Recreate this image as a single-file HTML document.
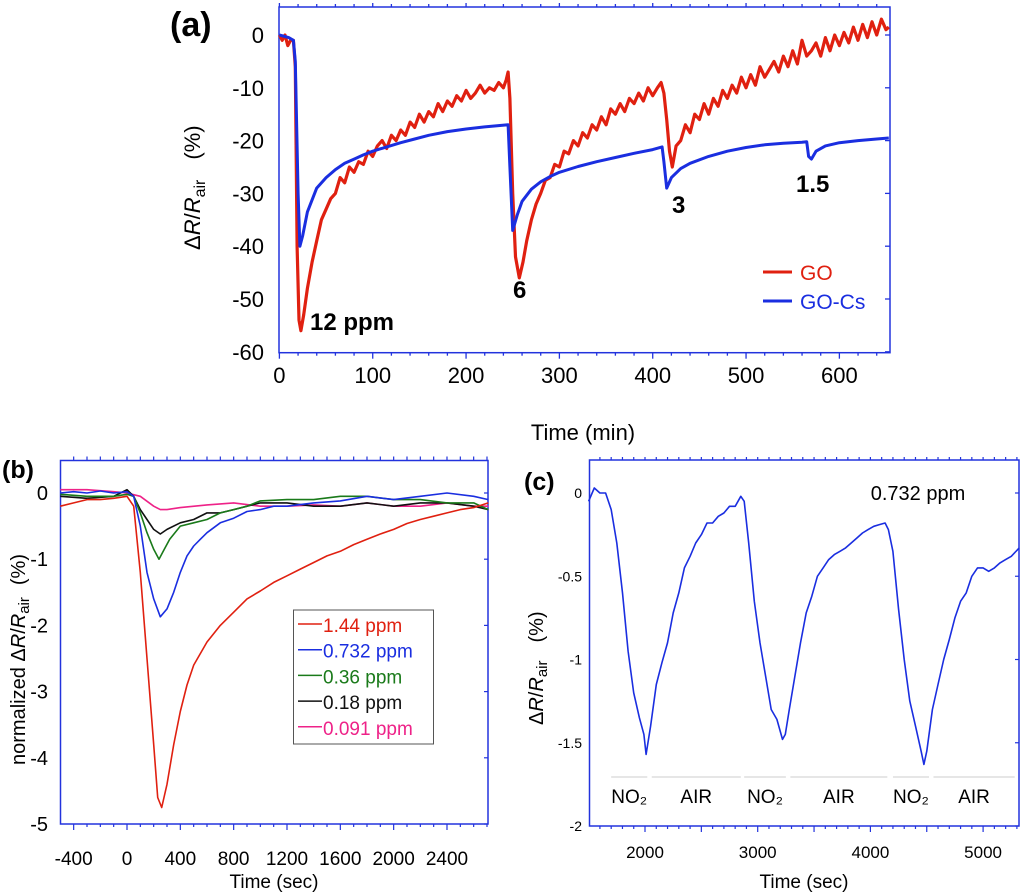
<!DOCTYPE html>
<html><head><meta charset="utf-8"><style>
body{margin:0;background:#fff}
svg{display:block;font-family:"Liberation Sans",Arial,sans-serif}
</style></head><body>
<svg id="s" width="1024" height="895" viewBox="0 0 1024 895">
<g id="ga"></g>
<g id="gb"></g>
<g id="gc"></g>
</svg>
<script>
// ---- Panel (a) data ----
const aGoT=[0,3,6,9,12,15,17,19,21,23,26,30,35,40,45,50,55,60,65,70,75,80,85,90,95,100,105,110,115,120,125,130,135,140,145,150,155,160,165,170,175,180,185,190,195,200,205,210,215,220,225,230,235,240,243,245,247,250,253,257,261,265,270,275,280,285,290,295,300,305,310,315,320,325,330,335,340,345,350,355,360,365,370,375,380,385,390,395,400,405,409,412,415,418,421,425,430,435,440,445,450,455,460,465,470,475,480,485,490,495,500,505,510,515,520,525,530,535,540,545,550,555,560,565,570,575,580,585,590,595,600,605,610,615,620,625,630,635,640,645,650,653];
const aGoV=[0,-1,0,-2,-1,-1,-6,-40,-54,-56,-53,-48,-43,-39,-35,-33,-31,-30,-27,-28,-25,-26,-24,-24.5,-22,-23,-21,-20,-21.5,-19,-20,-18,-19,-16.5,-17.5,-15,-16.5,-14.5,-15.5,-13,-14.5,-12.5,-13.5,-11.5,-12.5,-10.5,-12,-11,-9.5,-11,-10,-10.5,-9,-10,-8.5,-7,-12,-30,-42,-46,-43,-39,-35,-32,-30,-27.5,-27,-24.5,-25,-22,-22.5,-20,-21,-18.5,-19.5,-17,-18,-15.5,-17,-14,-15,-13,-14.5,-12,-13,-11,-12.5,-10,-11.5,-10,-9,-11,-16,-22,-25,-21,-20,-17,-18.5,-15,-16,-13,-15,-12,-13.5,-10.5,-12,-9.5,-11,-8,-10,-7.5,-9.5,-6,-8,-6.5,-5,-7,-4,-6,-3,-5.5,-1,-4,-3,-1.5,-4,-0.5,-3,0,-2,0.5,-1.5,1.5,-1,2,-0.5,2.5,0,3,1,1.5];
const aCsT=[0,10,15,17,20,22,25,30,40,50,60,70,80,90,100,115,130,145,160,180,200,220,245,247,250,255,260,270,280,290,300,320,340,360,380,400,410,412,415,420,430,440,460,480,500,520,540,560,565,567,570,575,585,600,620,640,653];
const aCsV=[0,-0.5,-1,-5,-30,-40,-38,-33.5,-29,-27,-25.5,-24.3,-23.5,-22.7,-22,-21.2,-20.4,-19.7,-19,-18.3,-17.8,-17.4,-17,-25,-37,-34,-31.5,-29.2,-27.8,-26.8,-26,-24.9,-24,-23.2,-22.4,-21.7,-21.2,-24,-29,-27,-25.3,-24.3,-23,-22,-21.3,-20.8,-20.5,-20.3,-20.2,-23,-23.5,-22,-21,-20.4,-20,-19.7,-19.5];
const aXTicks=[0,100,200,300,400,500,600];
const aYTicks=[0,-10,-20,-30,-40,-50,-60];
// ---- Panel (b) data ----
const bRedT=[-500,-400,-300,-200,-100,0,50,100,150,200,230,260,300,350,400,450,500,600,700,800,900,1000,1100,1200,1300,1400,1500,1600,1700,1800,1900,2000,2100,2200,2300,2400,2500,2600,2710];
const bRedV=[-0.2,-0.15,-0.1,-0.1,-0.08,-0.05,-0.2,-1.2,-2.5,-3.8,-4.6,-4.75,-4.4,-3.8,-3.3,-2.9,-2.6,-2.25,-2.0,-1.8,-1.6,-1.48,-1.35,-1.25,-1.15,-1.05,-0.95,-0.88,-0.78,-0.7,-0.62,-0.55,-0.46,-0.4,-0.35,-0.3,-0.25,-0.22,-0.15];
const bBlueT=[-500,-400,-300,-200,-100,0,50,100,150,200,250,300,350,400,450,500,550,600,700,800,900,1000,1100,1200,1400,1600,1800,2000,2200,2400,2600,2710];
const bBlueV=[0,0.02,0,0.03,0,0.02,-0.05,-0.5,-1.2,-1.6,-1.87,-1.75,-1.5,-1.2,-0.95,-0.8,-0.7,-0.6,-0.45,-0.38,-0.28,-0.25,-0.2,-0.2,-0.15,-0.12,-0.05,-0.1,-0.05,0,-0.05,-0.1];
const bGreenT=[-500,-300,-100,0,50,100,150,200,240,280,320,400,500,600,700,800,900,1000,1200,1400,1600,1800,2000,2200,2400,2600,2710];
const bGreenV=[-0.02,-0.05,-0.05,-0.02,-0.05,-0.3,-0.6,-0.85,-1.0,-0.85,-0.7,-0.5,-0.45,-0.4,-0.3,-0.25,-0.2,-0.12,-0.1,-0.1,-0.05,-0.05,-0.1,-0.1,-0.15,-0.15,-0.25];
const bBlackT=[-500,-300,-100,0,50,100,150,200,250,300,400,500,600,700,800,1000,1200,1400,1600,1800,2000,2200,2400,2600,2710];
const bBlackV=[-0.05,-0.08,-0.05,0.05,-0.05,-0.25,-0.4,-0.55,-0.62,-0.55,-0.45,-0.4,-0.3,-0.3,-0.25,-0.15,-0.15,-0.2,-0.2,-0.15,-0.2,-0.15,-0.15,-0.2,-0.25];
const bPinkT=[-500,-300,-100,0,100,200,250,300,400,600,800,1000,1200,1400,1600,1800,2000,2200,2400,2600,2710];
const bPinkV=[0.05,0.05,0.02,0,-0.05,-0.2,-0.25,-0.25,-0.22,-0.18,-0.15,-0.2,-0.2,-0.18,-0.2,-0.15,-0.2,-0.2,-0.15,-0.2,-0.2];
const bXTicks=[-400,0,400,800,1200,1600,2000,2400];
const bYTicks=[0,-1,-2,-3,-4,-5];
const bLegend=["1.44 ppm","0.732 ppm","0.36 ppm","0.18 ppm","0.091 ppm"];
// ---- Panel (c) data ----
const cT=[1500,1550,1600,1650,1700,1750,1800,1850,1900,1950,1990,2010,2050,2100,2150,2200,2250,2300,2350,2400,2450,2500,2550,2600,2650,2700,2750,2800,2850,2880,2920,2970,3020,3070,3120,3170,3220,3245,3280,3330,3380,3430,3480,3530,3580,3630,3680,3730,3780,3830,3880,3930,3980,4030,4080,4130,4160,4200,4250,4300,4350,4400,4450,4475,4500,4550,4600,4650,4700,4750,4800,4850,4900,4950,5000,5050,5100,5150,5200,5250,5320];
const cV=[-0.05,0.03,0,0,-0.1,-0.3,-0.6,-0.95,-1.2,-1.35,-1.45,-1.57,-1.4,-1.15,-1.02,-0.9,-0.72,-0.6,-0.45,-0.38,-0.3,-0.25,-0.18,-0.18,-0.14,-0.12,-0.08,-0.08,-0.02,-0.05,-0.3,-0.65,-0.9,-1.1,-1.3,-1.36,-1.48,-1.45,-1.3,-1.1,-0.9,-0.72,-0.62,-0.5,-0.45,-0.4,-0.37,-0.35,-0.33,-0.3,-0.27,-0.24,-0.22,-0.2,-0.19,-0.18,-0.22,-0.35,-0.7,-1.0,-1.25,-1.4,-1.55,-1.63,-1.55,-1.3,-1.15,-1.0,-0.88,-0.75,-0.65,-0.6,-0.5,-0.45,-0.45,-0.47,-0.45,-0.42,-0.4,-0.38,-0.33];
const cXTicks=[2000,3000,4000,5000];
const cYTicks=[0,-0.5,-1,-1.5,-2];
const cYLabels=["0","-0.5","-1","-1.5","-2"];
const cPhases=["NO₂","AIR","NO₂","AIR","NO₂","AIR"];
const cPhaseStart=[1700,2060,2880,3290,4200,4560];
const cPhaseEnd=[2020,2850,3250,4150,4520,5280];
</script>
<script>
const NS="http://www.w3.org/2000/svg";
function mk(p,tag,at,txt){const e=document.createElementNS(NS,tag);for(const k in at)e.setAttribute(k,at[k]);if(txt!==undefined)e.textContent=txt;p.appendChild(e);return e;}
function path(g,T,V,sx,sy,col,w){let d="";for(let i=0;i<T.length;i++)d+=(i?"L":"M")+sx(T[i]).toFixed(1)+","+sy(V[i]).toFixed(1);return mk(g,"path",{d:d,fill:"none",stroke:col,"stroke-width":w,"stroke-linejoin":"round"});}
const BL="#2233dd";

// ===== Panel a =====
(function(){
const g=document.getElementById("ga");
const sx=t=>279.4+t*0.9333, sy=v=>35-v*5.28;
const L=279,R=890,T=7,B=352.7;
let e=mk(g,"rect",{x:L,y:T,width:R-L,height:B-T,fill:"none",stroke:BL,"stroke-width":1.5});

for(let t=0;t<=650;t+=20){const big=t%100===0;mk(g,"line",{x1:sx(t),x2:sx(t),y1:B,y2:B+(big?6:3),stroke:BL,"stroke-width":1.3});mk(g,"line",{x1:sx(t),x2:sx(t),y1:T,y2:T-(big?4:3),stroke:BL,"stroke-width":1.3});}
aXTicks.forEach(t=>{const x=mk(g,"text",{x:sx(t),y:383,"font-size":22,"text-anchor":"middle"},String(t));});
aYTicks.forEach(v=>{mk(g,"line",{x1:R,x2:R-5,y1:sy(v),y2:sy(v),stroke:BL,"stroke-width":1.3});const y=mk(g,"text",{x:264,y:sy(v)+8,"font-size":22,"text-anchor":"end"},String(v));});
const go=path(g,aGoT,aGoV,sx,sy,"#e02010",3.2);
const cs=path(g,aCsT,aCsV,sx,sy,"#1a2ee0",3);
let t=mk(g,"text",{x:170,y:36,"font-size":34,"font-weight":"bold"},"(a)");
t=mk(g,"text",{x:0,y:0,"font-size":22,transform:"translate(200,250) rotate(-90)"});
t.innerHTML='Δ<tspan font-style="italic">R</tspan>/<tspan font-style="italic">R</tspan><tspan font-size="16" dy="5">air</tspan><tspan dy="-5" dx="20">(%)</tspan>';
t=mk(g,"text",{x:583,y:440,"font-size":22,"text-anchor":"middle"},"Time  (min)");
[["12 ppm",310,330],["6",513,298],["3",672,213],["1.5",796,192]].forEach(a=>{const q=mk(g,"text",{x:a[1],y:a[2],"font-size":24,"font-weight":"bold"},a[0]);});
mk(g,"line",{x1:763,x2:792,y1:272,y2:272,stroke:"#e02010","stroke-width":3});
t=mk(g,"text",{x:800,y:280,"font-size":21,fill:"#e02010"},"GO");
mk(g,"line",{x1:763,x2:792,y1:301,y2:301,stroke:"#1a2ee0","stroke-width":3});
t=mk(g,"text",{x:800,y:309,"font-size":21,fill:"#1a2ee0"},"GO-Cs");
})();

// ===== Panel b =====
(function(){
const g=document.getElementById("gb");
const sx=t=>127+t*0.13333, sy=v=>493-v*66.2;
const L=60.5,R=488,T=460.5,B=824;
let e=mk(g,"rect",{x:L,y:T,width:R-L,height:B-T,fill:"none",stroke:BL,"stroke-width":1.5});

for(let t=-400;t<=2700;t+=100){const big=t%400===0;mk(g,"line",{x1:sx(t),x2:sx(t),y1:B,y2:B+(big?6:3),stroke:BL,"stroke-width":1.2});mk(g,"line",{x1:sx(t),x2:sx(t),y1:T,y2:T-4,stroke:BL,"stroke-width":1.2});}
bXTicks.forEach(t=>{const x=mk(g,"text",{x:sx(t),y:865,"font-size":19,"text-anchor":"middle"},String(t));});
bYTicks.forEach(v=>{mk(g,"line",{x1:R,x2:R-4,y1:sy(v),y2:sy(v),stroke:BL,"stroke-width":1.2});const y=mk(g,"text",{x:48,y:sy(v)+7,"font-size":20,"text-anchor":"end"},String(v));});
const cols=["#e02010","#1a2ee0","#1a7a1a","#111111","#ee2288"];
const TT=[bRedT,bBlueT,bGreenT,bBlackT,bPinkT],VV=[bRedV,bBlueV,bGreenV,bBlackV,bPinkV];
for(let i=4;i>=0;i--){const p=path(g,TT[i],VV[i],sx,sy,cols[i],1.6);}
e=mk(g,"rect",{x:293.5,y:610,width:140,height:134,fill:"#fff",stroke:"#555","stroke-width":1});
bLegend.forEach((s,i)=>{const y=628+i*25.7;mk(g,"line",{x1:298,x2:322,y1:y-4,y2:y-4,stroke:cols[i],"stroke-width":1.5});const t=mk(g,"text",{x:323,y:y+4,"font-size":19,fill:cols[i]},s);});
let t=mk(g,"text",{x:2,y:478,"font-size":25,"font-weight":"bold"},"(b)");
t=mk(g,"text",{x:0,y:0,"font-size":20,transform:"translate(25,765) rotate(-90)"});
t.innerHTML='normalized Δ<tspan font-style="italic">R</tspan>/<tspan font-style="italic">R</tspan><tspan font-size="15" dy="4">air</tspan><tspan dy="-4" dx="12">(%)</tspan>';
t=mk(g,"text",{x:274,y:888,"font-size":19,"text-anchor":"middle"},"Time (sec)");
})();

// ===== Panel c =====
(function(){
const g=document.getElementById("gc");
const sx=t=>645+(t-2000)*0.1127, sy=v=>493-v*166.5;
const L=589.5,R=1019,T=460,B=826;
let e=mk(g,"rect",{x:L,y:T,width:R-L,height:B-T,fill:"none",stroke:BL,"stroke-width":1.5});

for(let t=1600;t<=5300;t+=100){const big=t%500===0;mk(g,"line",{x1:sx(t),x2:sx(t),y1:B,y2:B+(big?6:3),stroke:BL,"stroke-width":1.2});mk(g,"line",{x1:sx(t),x2:sx(t),y1:T,y2:T-3,stroke:BL,"stroke-width":1.2});}
cXTicks.forEach(t=>{const x=mk(g,"text",{x:sx(t),y:858,"font-size":17,"text-anchor":"middle"},String(t));});
cYTicks.forEach((v,i)=>{mk(g,"line",{x1:R,x2:R-4,y1:sy(v),y2:sy(v),stroke:BL,"stroke-width":1.2});const y=mk(g,"text",{x:582,y:sy(v)+5,"font-size":14,"text-anchor":"end"},cYLabels[i]);});
const p=path(g,cT,cV,sx,sy,"#1a2ee0",1.6);
cPhases.forEach((s,i)=>{mk(g,"line",{x1:sx(cPhaseStart[i]),x2:sx(cPhaseEnd[i]),y1:777,y2:777,stroke:"#cccccc","stroke-width":1});const t=mk(g,"text",{x:(sx(cPhaseStart[i])+sx(cPhaseEnd[i]))/2,y:803,"font-size":19,"text-anchor":"middle"},s);});
let t=mk(g,"text",{x:524,y:490,"font-size":25,"font-weight":"bold"},"(c)");
t=mk(g,"text",{x:918,y:500,"font-size":20,"text-anchor":"middle"},"0.732 ppm");
t=mk(g,"text",{x:0,y:0,"font-size":20,transform:"translate(543,725) rotate(-90)"});
t.innerHTML='Δ<tspan font-style="italic">R</tspan>/<tspan font-style="italic">R</tspan><tspan font-size="15" dy="4">air</tspan><tspan dy="-4" dx="18">(%)</tspan>';
t=mk(g,"text",{x:804,y:888,"font-size":19,"text-anchor":"middle"},"Time (sec)");
})();
</script>
</body></html>
